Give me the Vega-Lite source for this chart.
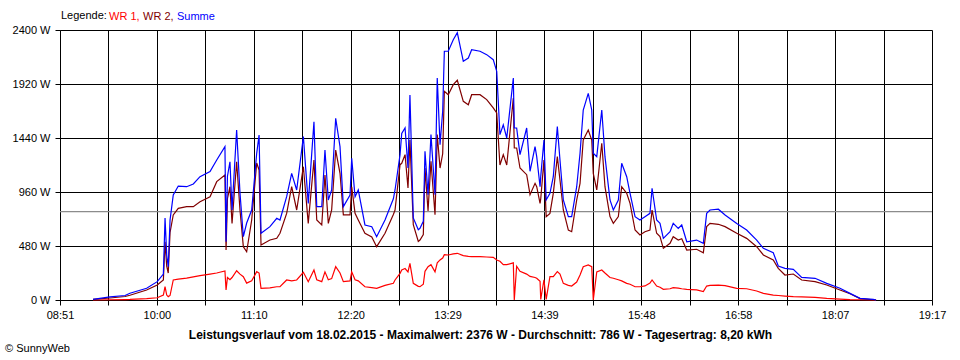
{
  "$schema": "https://vega.github.io/schema/vega-lite/v6.json",
  "width": 872,
  "height": 270,
  "autosize": {"type": "none"},
  "padding": {"left": 60, "top": 30, "right": 28, "bottom": 60},
  "background": "white",
  "config": {"view": {"stroke": null}, "font": "Liberation Sans"},
  "title": {"text": "© SunnyWeb", "orient": "bottom", "anchor": "start", "frame": "bounds", "fontSize": 11, "fontWeight": "normal", "color": "black", "font": "Liberation Sans", "offset": 3, "dx": -7},
  "data": {"values": [
    {"t": 555.1, "WR 1": 0, "WR 2": 5, "Summe": 5},
    {"t": 567.3, "WR 1": 2, "WR 2": 18, "Summe": 27},
    {"t": 578.1, "WR 1": 4, "WR 2": 31, "Summe": 40},
    {"t": 581.6, "WR 1": 5, "WR 2": 42, "Summe": 60},
    {"t": 593.6, "WR 1": 12, "WR 2": 89, "Summe": 104},
    {"t": 601.2, "WR 1": 20, "WR 2": 133, "Summe": 163},
    {"t": 605.6, "WR 1": 44, "WR 2": 178, "Summe": 231},
    {"t": 606.8, "WR 1": 118, "WR 2": 518, "Summe": 729},
    {"t": 608.0, "WR 1": 44, "WR 2": 300, "Summe": 400},
    {"t": 609.1, "WR 1": 30, "WR 2": 240, "Summe": 296},
    {"t": 610.4, "WR 1": 40, "WR 2": 600, "Summe": 711},
    {"t": 612.7, "WR 1": 178, "WR 2": 756, "Summe": 933},
    {"t": 616.3, "WR 1": 185, "WR 2": 815, "Summe": 1013},
    {"t": 622.3, "WR 1": 195, "WR 2": 830, "Summe": 1007},
    {"t": 627.1, "WR 1": 205, "WR 2": 830, "Summe": 1031},
    {"t": 631.9, "WR 1": 216, "WR 2": 874, "Summe": 1096},
    {"t": 639.1, "WR 1": 230, "WR 2": 918, "Summe": 1141},
    {"t": 643.9, "WR 1": 240, "WR 2": 1052, "Summe": 1244},
    {"t": 649.8, "WR 1": 258, "WR 2": 1111, "Summe": 1363},
    {"t": 650.6, "WR 1": 89, "WR 2": 444, "Summe": 518},
    {"t": 651.6, "WR 1": 200, "WR 2": 900, "Summe": 1100},
    {"t": 653.4, "WR 1": 180, "WR 2": 1007, "Summe": 1229},
    {"t": 654.9, "WR 1": 200, "WR 2": 680, "Summe": 800},
    {"t": 658.2, "WR 1": 260, "WR 2": 1229, "Summe": 1511},
    {"t": 660.6, "WR 1": 230, "WR 2": 800, "Summe": 951},
    {"t": 663.0, "WR 1": 207, "WR 2": 474, "Summe": 563},
    {"t": 665.4, "WR 1": 150, "WR 2": 429, "Summe": 684},
    {"t": 669.0, "WR 1": 170, "WR 2": 711, "Summe": 800},
    {"t": 672.6, "WR 1": 252, "WR 2": 1218, "Summe": 1304},
    {"t": 674.3, "WR 1": 240, "WR 2": 1156, "Summe": 1467},
    {"t": 675.7, "WR 1": 104, "WR 2": 489, "Summe": 593},
    {"t": 682.1, "WR 1": 107, "WR 2": 533, "Summe": 652},
    {"t": 687.0, "WR 1": 118, "WR 2": 548, "Summe": 726},
    {"t": 689.3, "WR 1": 118, "WR 2": 593, "Summe": 711},
    {"t": 694.1, "WR 1": 178, "WR 2": 770, "Summe": 918},
    {"t": 697.7, "WR 1": 170, "WR 2": 1007, "Summe": 1126},
    {"t": 701.3, "WR 1": 178, "WR 2": 800, "Summe": 978},
    {"t": 706.1, "WR 1": 246, "WR 2": 1185, "Summe": 1452},
    {"t": 709.6, "WR 1": 163, "WR 2": 681, "Summe": 859},
    {"t": 713.7, "WR 1": 267, "WR 2": 1244, "Summe": 1585},
    {"t": 715.7, "WR 1": 180, "WR 2": 711, "Summe": 830},
    {"t": 719.3, "WR 1": 163, "WR 2": 667, "Summe": 830},
    {"t": 721.6, "WR 1": 250, "WR 2": 1111, "Summe": 1333},
    {"t": 724.0, "WR 1": 180, "WR 2": 681, "Summe": 889},
    {"t": 726.4, "WR 1": 190, "WR 2": 800, "Summe": 978},
    {"t": 729.3, "WR 1": 296, "WR 2": 1333, "Summe": 1615},
    {"t": 732.4, "WR 1": 240, "WR 2": 1126, "Summe": 1363},
    {"t": 734.8, "WR 1": 163, "WR 2": 756, "Summe": 830},
    {"t": 739.6, "WR 1": 170, "WR 2": 756, "Summe": 933},
    {"t": 740.8, "WR 1": 250, "WR 2": 1007, "Summe": 1259},
    {"t": 743.2, "WR 1": 180, "WR 2": 770, "Summe": 918},
    {"t": 745.5, "WR 1": 170, "WR 2": 711, "Summe": 978},
    {"t": 750.3, "WR 1": 118, "WR 2": 593, "Summe": 667},
    {"t": 755.2, "WR 1": 110, "WR 2": 560, "Summe": 652},
    {"t": 758.7, "WR 1": 104, "WR 2": 474, "Summe": 563},
    {"t": 764.7, "WR 1": 130, "WR 2": 593, "Summe": 711},
    {"t": 770.7, "WR 1": 148, "WR 2": 760, "Summe": 900},
    {"t": 771.9, "WR 1": 178, "WR 2": 800, "Summe": 978},
    {"t": 775.5, "WR 1": 237, "WR 2": 1203, "Summe": 1292},
    {"t": 776.7, "WR 1": 267, "WR 2": 1215, "Summe": 1481},
    {"t": 779.1, "WR 1": 280, "WR 2": 1292, "Summe": 1529},
    {"t": 781.2, "WR 1": 250, "WR 2": 996, "Summe": 1173},
    {"t": 782.6, "WR 1": 326, "WR 2": 1422, "Summe": 1822},
    {"t": 785.0, "WR 1": 148, "WR 2": 669, "Summe": 729},
    {"t": 788.6, "WR 1": 121, "WR 2": 521, "Summe": 625},
    {"t": 789.8, "WR 1": 118, "WR 2": 533, "Summe": 637},
    {"t": 792.2, "WR 1": 140, "WR 2": 581, "Summe": 699},
    {"t": 793.4, "WR 1": 255, "WR 2": 1173, "Summe": 1321},
    {"t": 795.6, "WR 1": 296, "WR 2": 791, "Summe": 936},
    {"t": 797.7, "WR 1": 314, "WR 2": 1233, "Summe": 1470},
    {"t": 800.6, "WR 1": 250, "WR 2": 758, "Summe": 936},
    {"t": 802.2, "WR 1": 330, "WR 2": 1470, "Summe": 1973},
    {"t": 804.2, "WR 1": 356, "WR 2": 1173, "Summe": 1381},
    {"t": 806.1, "WR 1": 373, "WR 2": 1300, "Summe": 1677},
    {"t": 807.3, "WR 1": 403, "WR 2": 1855, "Summe": 2211},
    {"t": 810.1, "WR 1": 400, "WR 2": 1825, "Summe": 2211},
    {"t": 813.7, "WR 1": 410, "WR 2": 1914, "Summe": 2314},
    {"t": 816.6, "WR 1": 415, "WR 2": 1953, "Summe": 2376},
    {"t": 820.9, "WR 1": 395, "WR 2": 1766, "Summe": 2122},
    {"t": 824.5, "WR 1": 388, "WR 2": 1736, "Summe": 2151},
    {"t": 826.9, "WR 1": 385, "WR 2": 1825, "Summe": 2225},
    {"t": 832.9, "WR 1": 385, "WR 2": 1825, "Summe": 2211},
    {"t": 837.7, "WR 1": 382, "WR 2": 1781, "Summe": 2181},
    {"t": 842.4, "WR 1": 379, "WR 2": 1707, "Summe": 2136},
    {"t": 844.9, "WR 1": 356, "WR 2": 1662, "Summe": 2033},
    {"t": 847.2, "WR 1": 344, "WR 2": 1200, "Summe": 1470},
    {"t": 849.6, "WR 1": 314, "WR 2": 1292, "Summe": 1558},
    {"t": 852.1, "WR 1": 314, "WR 2": 1200, "Summe": 1440},
    {"t": 856.8, "WR 1": 330, "WR 2": 1796, "Summe": 1973},
    {"t": 857.5, "WR 1": 0, "WR 2": 1351, "Summe": 1529},
    {"t": 859.2, "WR 1": 300, "WR 2": 1351, "Summe": 1529},
    {"t": 861.6, "WR 1": 255, "WR 2": 1173, "Summe": 1292},
    {"t": 866.4, "WR 1": 230, "WR 2": 1114, "Summe": 1529},
    {"t": 868.8, "WR 1": 210, "WR 2": 936, "Summe": 1144},
    {"t": 872.4, "WR 1": 200, "WR 2": 1037, "Summe": 1363},
    {"t": 873.6, "WR 1": 193, "WR 2": 1007, "Summe": 1274},
    {"t": 876.0, "WR 1": 166, "WR 2": 859, "Summe": 1007},
    {"t": 876.5, "WR 1": 5, "WR 2": 900, "Summe": 1100},
    {"t": 878.8, "WR 1": 180, "WR 2": 1244, "Summe": 1422},
    {"t": 880.4, "WR 1": 5, "WR 2": 741, "Summe": 889},
    {"t": 883.1, "WR 1": 207, "WR 2": 770, "Summe": 948},
    {"t": 885.5, "WR 1": 207, "WR 2": 948, "Summe": 1096},
    {"t": 888.4, "WR 1": 252, "WR 2": 1274, "Summe": 1541},
    {"t": 890.3, "WR 1": 230, "WR 2": 1067, "Summe": 1244},
    {"t": 892.7, "WR 1": 148, "WR 2": 800, "Summe": 889},
    {"t": 896.3, "WR 1": 130, "WR 2": 622, "Summe": 741},
    {"t": 898.7, "WR 1": 124, "WR 2": 607, "Summe": 741},
    {"t": 902.3, "WR 1": 160, "WR 2": 889, "Summe": 1007},
    {"t": 904.7, "WR 1": 222, "WR 2": 1037, "Summe": 1304},
    {"t": 907.0, "WR 1": 296, "WR 2": 1422, "Summe": 1689},
    {"t": 910.6, "WR 1": 311, "WR 2": 1511, "Summe": 1837},
    {"t": 913.1, "WR 1": 296, "WR 2": 1422, "Summe": 1689},
    {"t": 914.2, "WR 1": 0, "WR 2": 1126, "Summe": 1304},
    {"t": 916.7, "WR 1": 250, "WR 2": 978, "Summe": 1274},
    {"t": 920.3, "WR 1": 267, "WR 2": 1393, "Summe": 1689},
    {"t": 922.6, "WR 1": 240, "WR 2": 1007, "Summe": 1274},
    {"t": 926.2, "WR 1": 200, "WR 2": 741, "Summe": 889},
    {"t": 928.6, "WR 1": 193, "WR 2": 681, "Summe": 800},
    {"t": 932.2, "WR 1": 180, "WR 2": 741, "Summe": 889},
    {"t": 934.6, "WR 1": 170, "WR 2": 1007, "Summe": 1215},
    {"t": 938.2, "WR 1": 148, "WR 2": 948, "Summe": 1096},
    {"t": 940.6, "WR 1": 140, "WR 2": 859, "Summe": 948},
    {"t": 944.2, "WR 1": 118, "WR 2": 622, "Summe": 741},
    {"t": 947.7, "WR 1": 118, "WR 2": 578, "Summe": 711},
    {"t": 951.3, "WR 1": 125, "WR 2": 607, "Summe": 741},
    {"t": 954.9, "WR 1": 150, "WR 2": 622, "Summe": 770},
    {"t": 956.4, "WR 1": 178, "WR 2": 800, "Summe": 993},
    {"t": 959.7, "WR 1": 124, "WR 2": 593, "Summe": 711},
    {"t": 962.1, "WR 1": 113, "WR 2": 563, "Summe": 681},
    {"t": 964.5, "WR 1": 95, "WR 2": 459, "Summe": 548},
    {"t": 969.3, "WR 1": 100, "WR 2": 504, "Summe": 607},
    {"t": 971.6, "WR 1": 110, "WR 2": 563, "Summe": 681},
    {"t": 975.2, "WR 1": 105, "WR 2": 533, "Summe": 637},
    {"t": 977.7, "WR 1": 100, "WR 2": 545, "Summe": 667},
    {"t": 981.3, "WR 1": 95, "WR 2": 444, "Summe": 518},
    {"t": 988.4, "WR 1": 90, "WR 2": 451, "Summe": 533},
    {"t": 993.2, "WR 1": 74, "WR 2": 420, "Summe": 504},
    {"t": 995.6, "WR 1": 124, "WR 2": 652, "Summe": 770},
    {"t": 998.0, "WR 1": 130, "WR 2": 681, "Summe": 800},
    {"t": 1004.0, "WR 1": 133, "WR 2": 673, "Summe": 807},
    {"t": 1008.8, "WR 1": 128, "WR 2": 652, "Summe": 756},
    {"t": 1017.2, "WR 1": 104, "WR 2": 593, "Summe": 681},
    {"t": 1024.3, "WR 1": 100, "WR 2": 548, "Summe": 622},
    {"t": 1031.5, "WR 1": 80, "WR 2": 474, "Summe": 533},
    {"t": 1036.3, "WR 1": 59, "WR 2": 400, "Summe": 459},
    {"t": 1043.4, "WR 1": 44, "WR 2": 356, "Summe": 420},
    {"t": 1047.0, "WR 1": 40, "WR 2": 281, "Summe": 302},
    {"t": 1051.8, "WR 1": 35, "WR 2": 222, "Summe": 281},
    {"t": 1057.8, "WR 1": 30, "WR 2": 231, "Summe": 273},
    {"t": 1063.8, "WR 1": 27, "WR 2": 178, "Summe": 201},
    {"t": 1073.4, "WR 1": 24, "WR 2": 163, "Summe": 193},
    {"t": 1081.8, "WR 1": 15, "WR 2": 133, "Summe": 148},
    {"t": 1091.3, "WR 1": 8, "WR 2": 89, "Summe": 104},
    {"t": 1098.5, "WR 1": 4, "WR 2": 55, "Summe": 59},
    {"t": 1105.7, "WR 1": 2, "WR 2": 12, "Summe": 15},
    {"t": 1115.2, "WR 1": 0, "WR 2": 2, "Summe": 6},
    {"t": 1117.2, "WR 1": 0, "WR 2": 0, "Summe": 0}
  ]},
  "layer": [
    {
      "data": {"values": [{"Durchschnitt": 786}]},
      "mark": {"type": "rule", "color": "#8c8c8c", "strokeWidth": 1.2},
      "encoding": {
        "y": {
          "field": "Durchschnitt", "type": "quantitative",
          "scale": {"domain": [0, 2400], "nice": false},
          "axis": {
            "values": [0, 480, 960, 1440, 1920, 2400],
            "labelExpr": "datum.value + ' W'",
            "grid": true, "gridColor": "black", "gridOpacity": 1, "gridWidth": 1,
            "domainColor": "black", "tickColor": "black", "tickSize": 5,
            "labelColor": "black", "labelFontSize": 11, "labelFont": "Liberation Sans", "labelPadding": 5,
            "labelFlush": false, "labelOverlap": false, "title": null
          }
        }
      }
    },
    {
      "transform": [{"fold": ["WR 1", "WR 2", "Summe"], "as": ["Reihe", "Leistung"]}],
      "mark": {"type": "line", "strokeWidth": 1.2},
      "encoding": {
        "x": {
          "field": "t", "type": "quantitative",
          "scale": {"domain": [531.4, 1157.35], "nice": false, "zero": false},
          "axis": {
            "values": [531.4, 566.175, 600.95, 635.725, 670.5, 705.275, 740.05, 774.825, 809.6, 844.375, 879.15, 913.925, 948.7, 983.475, 1018.25, 1053.025, 1087.8, 1122.575, 1157.35],
            "labelExpr": "(round((datum.value - 531.4) / 34.775) % 2 == 0) ? ((floor(datum.value / 60) < 10 ? '0' : '') + floor(datum.value / 60) + ':' + (floor(datum.value) % 60 < 10 ? '0' : '') + (floor(datum.value) % 60)) : ''",
            "grid": true, "gridColor": "black", "gridOpacity": 1, "gridWidth": 1,
            "domainColor": "black", "domainWidth": 1, "tickColor": "black", "tickSize": 5, "tickWidth": 1,
            "labelColor": "black", "labelFontSize": 11, "labelFont": "Liberation Sans", "labelPadding": 4,
            "labelFlush": false, "labelOverlap": false, "labelBound": false,
            "title": "Leistungsverlauf vom 18.02.2015 - Maximalwert: 2376 W - Durchschnitt: 786 W - Tagesertrag: 8,20 kWh",
            "titleFont": "Liberation Sans", "titleFontSize": 12, "titleFontWeight": "bold", "titleColor": "black",
            "titlePadding": 9, "titleX": 420, "titleAnchor": "middle"
          }
        },
        "y": {
          "field": "Leistung", "type": "quantitative",
          "scale": {"domain": [0, 2400], "nice": false},
          "axis": {
            "values": [0, 480, 960, 1440, 1920, 2400],
            "labelExpr": "datum.value + ' W'",
            "grid": true, "gridColor": "black", "gridOpacity": 1, "gridWidth": 1,
            "domainColor": "black", "tickColor": "black", "tickSize": 5,
            "labelColor": "black", "labelFontSize": 11, "labelFont": "Liberation Sans", "labelPadding": 5,
            "labelFlush": false, "labelOverlap": false, "title": null
          }
        },
        "color": {
          "field": "Reihe", "type": "nominal",
          "scale": {"domain": ["WR 1", "WR 2", "Summe"], "range": ["#ff0000", "#800000", "#0000ff"]},
          "legend": {
            "orient": "none", "legendX": 1, "legendY": -19, "direction": "horizontal",
            "title": "Legende:", "titleOrient": "left", "titleFontWeight": "normal", "titleFontSize": 11,
            "titleColor": "black", "titleFont": "Liberation Sans", "titlePadding": 2,
            "labelFontSize": 11, "labelFont": "Liberation Sans",
            "labelColor": {"expr": "datum.value == 'WR 1' ? '#ff0000' : datum.value == 'WR 2' ? '#800000' : '#0000ff'"},
            "labelExpr": "datum.value == 'Summe' ? datum.value : datum.value + ','",
            "symbolSize": 0, "symbolOpacity": 0, "symbolStrokeWidth": 0, "symbolType": "square",
            "labelOffset": -11, "columnPadding": 3
          }
        }
      }
    }
  ]
}
